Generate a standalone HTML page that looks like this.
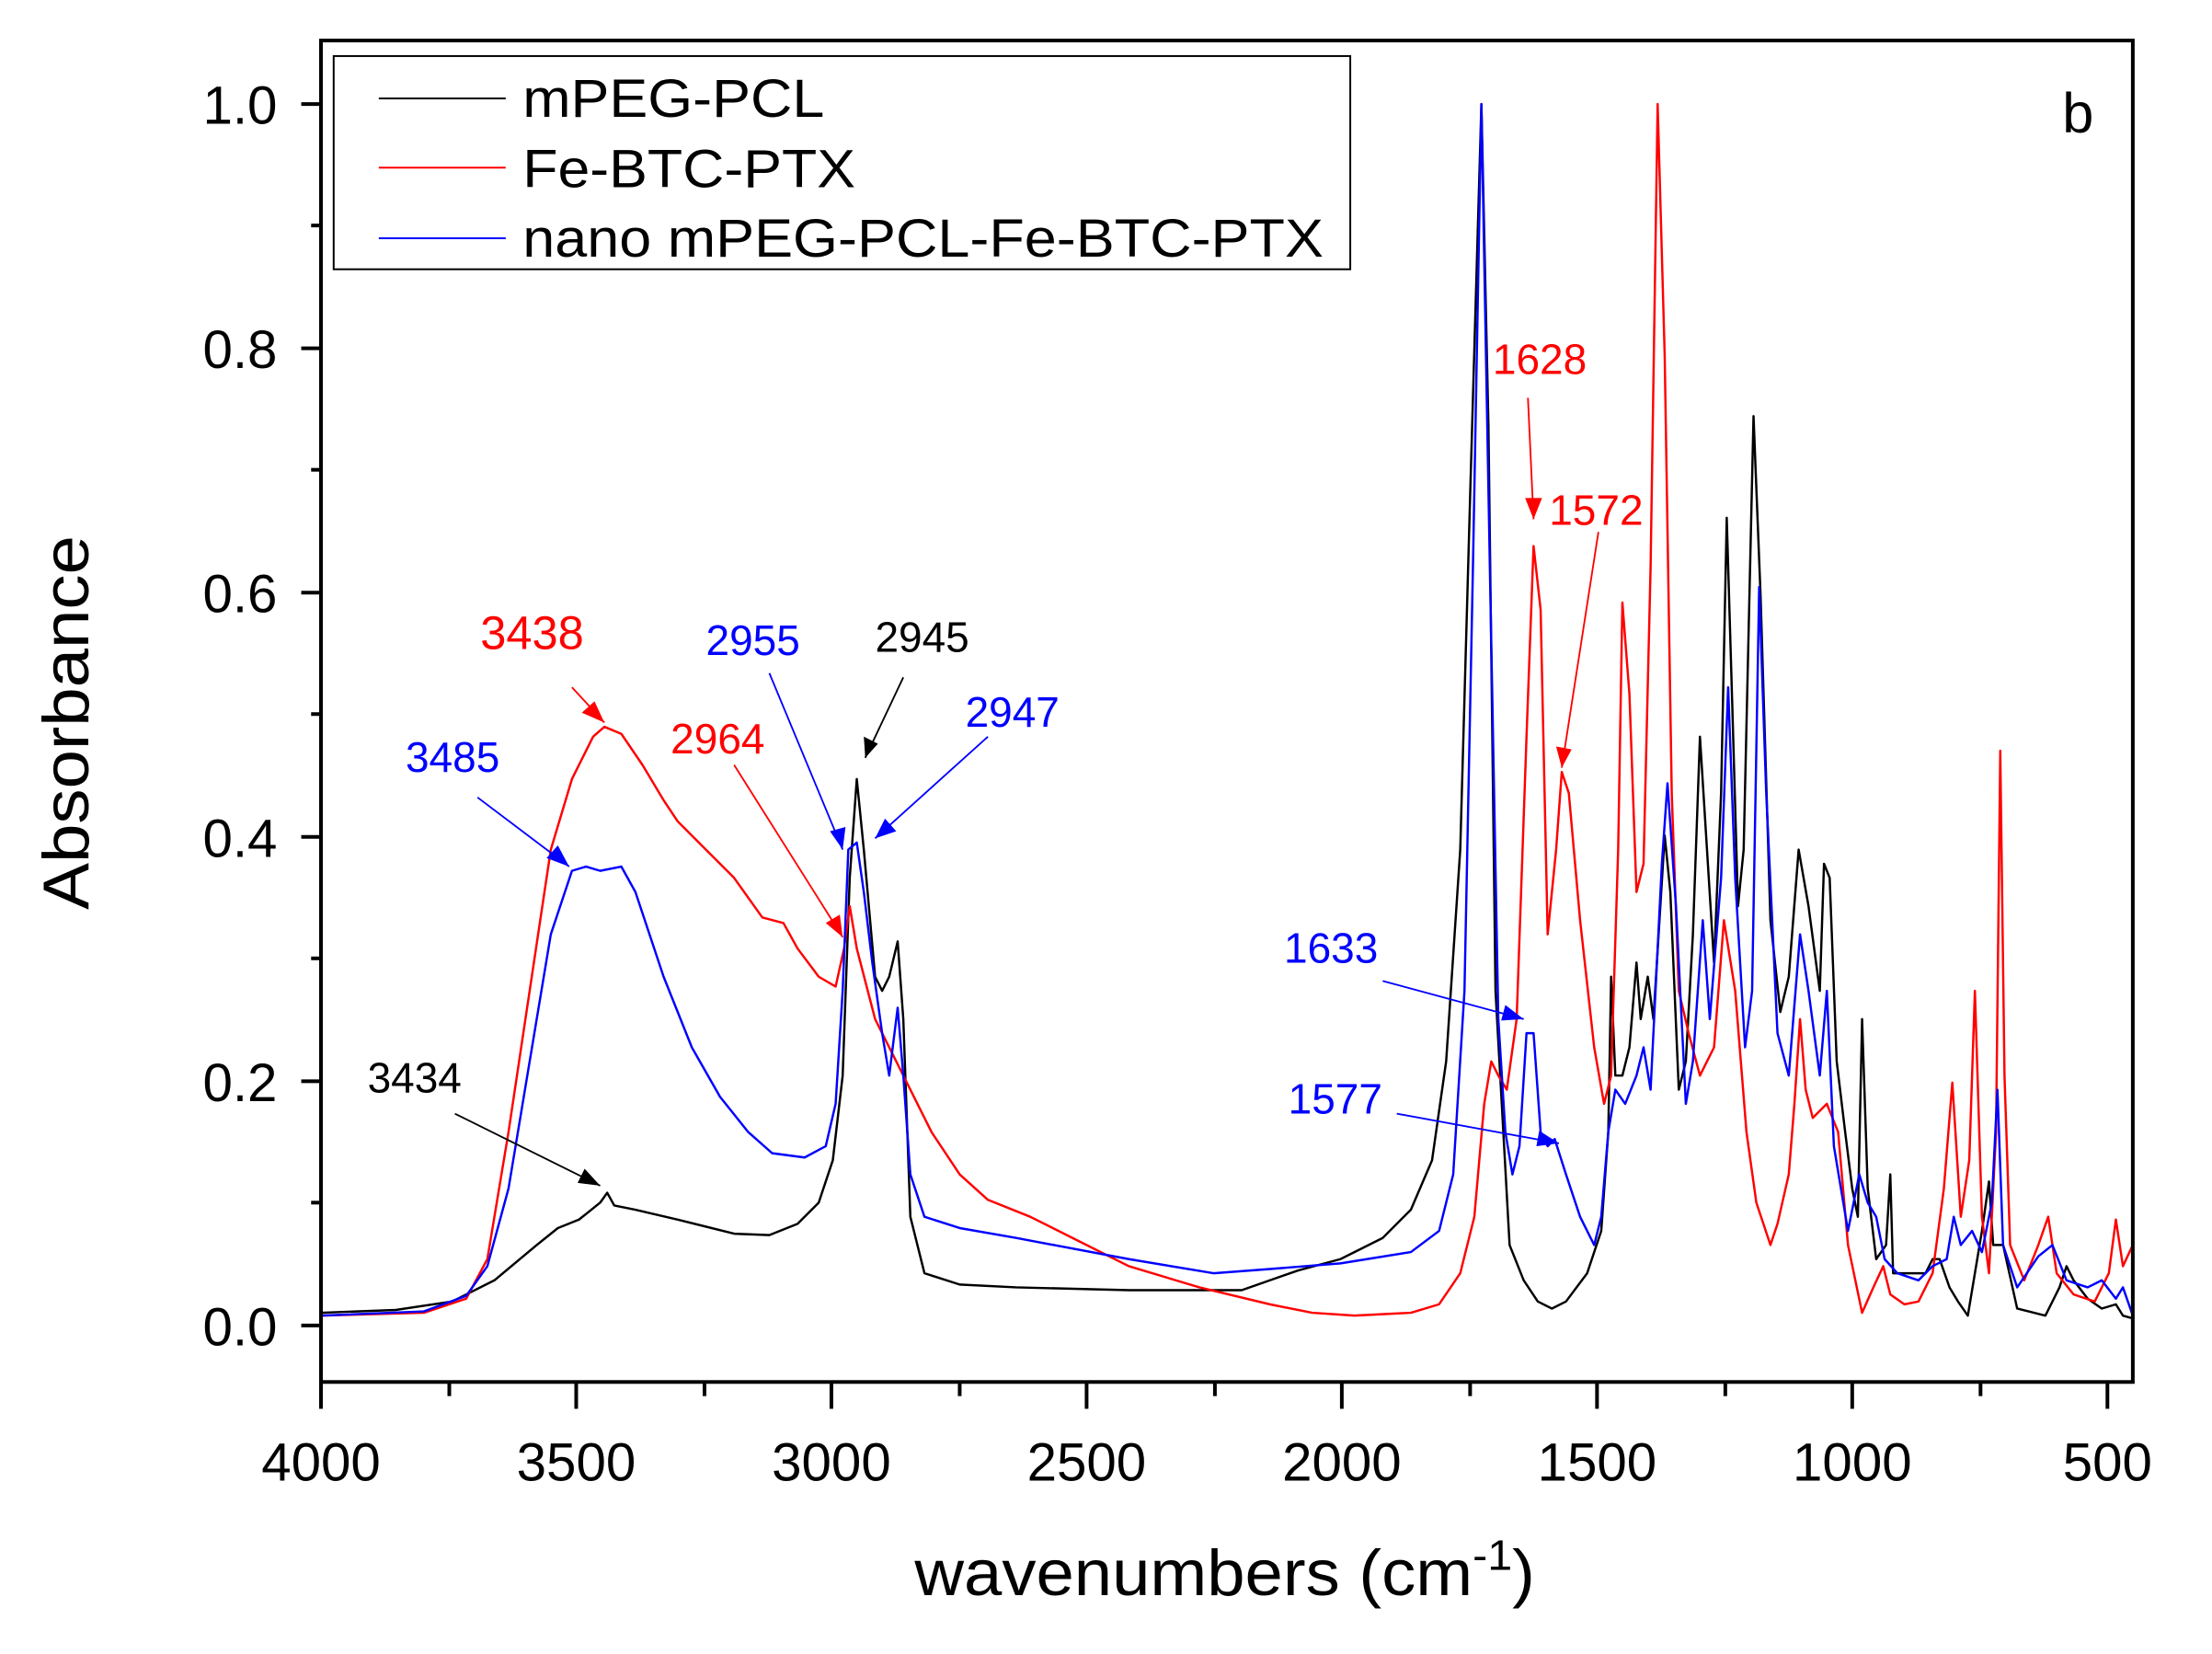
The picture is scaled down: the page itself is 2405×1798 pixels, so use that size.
<!DOCTYPE html>
<html><head><meta charset="utf-8"><style>html,body{margin:0;padding:0;background:#fff}svg{display:block}</style></head>
<body>
<svg width="2405" height="1798" viewBox="0 0 2405 1798" xmlns="http://www.w3.org/2000/svg">
<g transform="translate(1,2.6) scale(1.533,1.535)" font-family="Liberation Sans, Arial, sans-serif">
<g fill="none" stroke-width="1.6" stroke-linejoin="round">
<polyline stroke="#000" points="227,928 280,926 320,920 350,905 380,880 395,868 410,862 425,850 430,843 435,852 450,855 480,862 520,872 545,873 565,865 580,850 590,820 597,760 602,620 607,550 612,600 620,690 625,700 630,690 636,665 640,720 645,860 655,900 680,908 720,910 800,912 880,912 900,905 920,898 950,890 980,875 1000,855 1015,820 1025,750 1035,600 1042,350 1050,72 1055,300 1060,700 1070,880 1080,905 1090,920 1100,925 1110,920 1125,900 1135,870 1140,800 1142,690 1145,760 1150,760 1155,740 1160,680 1163,720 1168,690 1172,720 1180,590 1184,630 1190,770 1195,750 1200,660 1205,520 1210,600 1215,680 1220,560 1224,365 1228,500 1232,640 1236,600 1243,293 1248,420 1255,650 1262,715 1268,690 1275,600 1282,640 1290,700 1293,610 1297,620 1302,750 1308,800 1313,840 1317,860 1320,720 1324,840 1330,890 1337,880 1340,830 1342,900 1355,900 1365,900 1370,890 1375,890 1382,910 1388,920 1395,930 1405,870 1410,835 1413,880 1420,880 1430,925 1450,930 1460,910 1465,895 1470,905 1480,918 1490,925 1500,922 1505,930 1512,932"/>
<polyline stroke="#f00" points="227,930 300,928 330,918 345,890 360,800 375,700 390,600 405,550 420,520 428,513 440,518 455,540 470,565 480,580 500,600 520,620 540,648 555,652 565,670 580,690 592,697 598,670 602,640 607,670 620,720 640,760 660,800 680,830 700,848 730,860 760,875 800,895 850,910 900,922 930,928 960,930 1000,928 1020,922 1035,900 1045,860 1052,780 1057,750 1062,760 1068,770 1075,720 1082,520 1087,385 1092,430 1097,660 1103,600 1107,545 1112,560 1120,650 1130,740 1137,780 1142,760 1147,600 1150,425 1155,490 1160,630 1165,610 1170,400 1175,72 1180,250 1185,560 1190,700 1197,730 1205,760 1215,740 1222,650 1230,700 1238,800 1245,850 1255,880 1260,865 1268,830 1272,780 1276,720 1280,770 1285,790 1295,780 1303,800 1310,880 1320,928 1328,910 1335,895 1340,915 1350,922 1360,920 1370,900 1378,840 1384,765 1390,860 1396,820 1400,700 1405,860 1410,900 1415,800 1418,530 1421,760 1425,880 1435,905 1445,880 1452,860 1458,900 1470,915 1485,920 1495,900 1500,862 1505,895 1512,880"/>
<polyline stroke="#00f" points="227,930 300,927 330,916 345,895 360,840 375,750 390,660 405,615 415,612 425,615 440,612 450,630 470,690 490,740 510,775 530,800 547,815 570,818 585,810 592,780 597,700 601,600 607,595 612,630 618,680 625,730 630,760 636,712 640,760 645,830 655,860 680,868 720,875 800,890 860,900 900,897 950,893 1000,885 1020,870 1030,830 1038,700 1044,400 1050,72 1056,400 1062,720 1067,800 1072,830 1077,810 1082,730 1087,730 1092,800 1097,810 1102,805 1110,830 1120,860 1130,880 1135,860 1140,800 1145,770 1152,780 1160,760 1165,740 1170,770 1178,610 1182,553 1188,640 1195,780 1200,750 1207,650 1212,720 1220,620 1225,485 1230,620 1237,740 1242,700 1247,414 1252,560 1260,730 1268,760 1276,660 1282,700 1290,760 1295,700 1300,810 1310,870 1318,830 1324,850 1330,860 1336,890 1345,900 1360,905 1370,895 1380,890 1385,860 1390,880 1398,870 1405,885 1412,850 1416,770 1420,880 1430,910 1445,888 1455,880 1465,905 1480,910 1490,905 1500,918 1505,910 1512,930"/>
</g>
<rect x="227" y="27" width="1285" height="950" fill="none" stroke="#000" stroke-width="2.6"/>
<g stroke="#000" stroke-width="2.6">
<line x1="213" y1="937" x2="227" y2="937"/><line x1="213" y1="764" x2="227" y2="764"/><line x1="213" y1="591" x2="227" y2="591"/><line x1="213" y1="418" x2="227" y2="418"/><line x1="213" y1="245" x2="227" y2="245"/><line x1="213" y1="72" x2="227" y2="72"/>
<line x1="220" y1="850" x2="227" y2="850"/><line x1="220" y1="677" x2="227" y2="677"/><line x1="220" y1="504" x2="227" y2="504"/><line x1="220" y1="331" x2="227" y2="331"/><line x1="220" y1="158" x2="227" y2="158"/>
<line x1="227" y1="977" x2="227" y2="996"/><line x1="408" y1="977" x2="408" y2="996"/><line x1="589" y1="977" x2="589" y2="996"/><line x1="770" y1="977" x2="770" y2="996"/><line x1="951" y1="977" x2="951" y2="996"/><line x1="1132" y1="977" x2="1132" y2="996"/><line x1="1313" y1="977" x2="1313" y2="996"/><line x1="1494" y1="977" x2="1494" y2="996"/>
<line x1="318" y1="977" x2="318" y2="987"/><line x1="499" y1="977" x2="499" y2="987"/><line x1="680" y1="977" x2="680" y2="987"/><line x1="861" y1="977" x2="861" y2="987"/><line x1="1042" y1="977" x2="1042" y2="987"/><line x1="1223" y1="977" x2="1223" y2="987"/><line x1="1404" y1="977" x2="1404" y2="987"/>
</g>
<g font-size="38" text-anchor="end" fill="#000">
<text x="196" y="951">0.0</text><text x="196" y="778">0.2</text><text x="196" y="605">0.4</text><text x="196" y="432">0.6</text><text x="196" y="259">0.8</text><text x="196" y="86">1.0</text>
</g>
<g font-size="38" text-anchor="middle" fill="#000">
<text x="227" y="1047">4000</text><text x="408" y="1047">3500</text><text x="589" y="1047">3000</text><text x="770" y="1047">2500</text><text x="951" y="1047">2000</text><text x="1132" y="1047">1500</text><text x="1313" y="1047">1000</text><text x="1494" y="1047">500</text>
</g>
<text x="648" y="1128" font-size="46" textLength="440" lengthAdjust="spacingAndGlyphs">wavenumbers (cm<tspan font-size="30" dy="-18">-1</tspan><tspan dy="18">)</tspan></text>
<text transform="translate(62,510) rotate(-90)" font-size="46" text-anchor="middle" textLength="265" lengthAdjust="spacingAndGlyphs">Absorbance</text>
<text x="1462" y="92" font-size="40">b</text>
<rect x="236" y="38" width="721" height="151" fill="#fff" stroke="#000" stroke-width="1.3"/>
<line x1="268" y1="68" x2="358" y2="68" stroke="#000" stroke-width="1.3"/>
<line x1="268" y1="117" x2="358" y2="117" stroke="#f00" stroke-width="1.3"/>
<line x1="268" y1="167" x2="358" y2="167" stroke="#00f" stroke-width="1.3"/>
<g font-size="38"><text x="370" y="81" textLength="214" lengthAdjust="spacingAndGlyphs">mPEG-PCL</text><text x="370" y="131" textLength="236" lengthAdjust="spacingAndGlyphs">Fe-BTC-PTX</text><text x="370" y="180" textLength="568" lengthAdjust="spacingAndGlyphs">nano mPEG-PCL-Fe-BTC-PTX</text></g>
<g font-size="30">
<text x="340" y="458" fill="#f00" font-size="33">3438</text>
<text x="287" y="545" fill="#00f">3485</text>
<text x="260" y="772" fill="#000">3434</text>
<text x="475" y="532" fill="#f00">2964</text>
<text x="500" y="462" fill="#00f">2955</text>
<text x="620" y="460" fill="#000">2945</text>
<text x="684" y="513" fill="#00f">2947</text>
<text x="1058" y="263" fill="#f00">1628</text>
<text x="1098" y="370" fill="#f00">1572</text>
<text x="910" y="680" fill="#00f">1633</text>
<text x="913" y="787" fill="#00f">1577</text>
</g>
<g stroke-width="1.2" fill="none">
<path d="M405,485 L428,510" stroke="#f00"/><path d="M338,563 L403,612" stroke="#00f"/><path d="M322,787 L425,838" stroke="#000"/>
<path d="M520,540 L597,662" stroke="#f00"/><path d="M545,475 L597,600" stroke="#00f"/><path d="M640,478 L613,535" stroke="#000"/>
<path d="M700,520 L620,592" stroke="#00f"/><path d="M1083,280 L1087,366" stroke="#f00"/><path d="M1133,375 L1107,542" stroke="#f00"/>
<path d="M980,693 L1080,720" stroke="#00f"/><path d="M990,787 L1105,808" stroke="#00f"/>
</g>
<g>
<polygon points="428,510 412,503 421,495" fill="#f00"/>
<polygon points="403,612 387,606 395,597" fill="#00f"/>
<polygon points="425,838 409,836 414,826" fill="#000"/>
<polygon points="597,662 585,652 595,646" fill="#f00"/>
<polygon points="597,600 588,587 599,584" fill="#00f"/>
<polygon points="613,535 612,520 622,525" fill="#000"/>
<polygon points="620,592 627,578 635,587" fill="#00f"/>
<polygon points="1087,366 1081,351 1093,351" fill="#f00"/>
<polygon points="1107,542 1103,527 1114,529" fill="#f00"/>
<polygon points="1080,720 1064,721 1067,710" fill="#00f"/>
<polygon points="1105,808 1089,810 1091,799" fill="#00f"/>
</g>
</g>
</svg>
</body></html>
